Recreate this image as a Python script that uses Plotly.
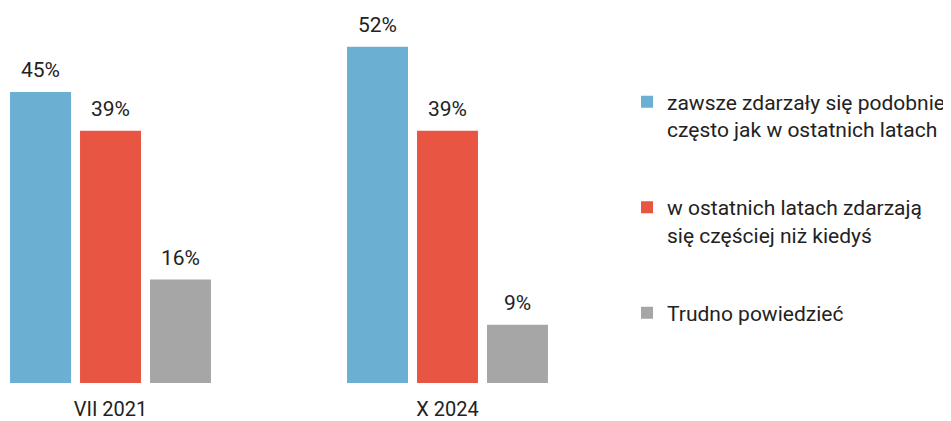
import plotly.graph_objects as go

categories = ["VII 2021", "X 2024"]
series_names = [
    "zawsze zdarzały się podobnie<br>często jak w ostatnich latach",
    "w ostatnich latach zdarzają<br>się częściej niż kiedyś",
    "Trudno powiedzieć",
]
values_always = [45, 52]
values_more = [39, 39]
values_hard = [16, 9]
colors = ["#6bafd2", "#e85643", "#a6a6a6"]

BARGAP = 0.377
all_series = [values_always, values_more, values_hard]
n = len(all_series)

fig = go.Figure()
for i, (name, vals) in enumerate(zip(series_names, all_series)):
    fig.add_trace(go.Bar(
        x=categories, y=vals, name=name,
        marker=dict(color=colors[i], line=dict(width=0)),
        legendgroup=f"g{i}",
        hoverinfo="x+y",
    ))
    slot = (1 - BARGAP) / n
    for ci, v in enumerate(vals):
        fig.add_annotation(
            x=ci + (i - (n - 1) / 2) * slot, y=v, xref="x", yref="y",
            text=f"{v}%", showarrow=False, yanchor="middle", yshift=22,
            font=dict(size=21, color="#222222"),
        )

fig.update_layout(
    width=943, height=413,
    margin=dict(l=0, r=343, t=10, b=36),
    paper_bgcolor="white", plot_bgcolor="white",
    font=dict(family="Roboto", size=21, color="#222222"),
    barmode="group", bargap=BARGAP, bargroupgap=0.129,
    showlegend=True,
    legend=dict(x=1.0317, y=0.826, xanchor="left", yanchor="top",
                valign="top", tracegroupgap=48,
                font=dict(size=21, color="#222222"),
                bgcolor="rgba(0,0,0,0)"),
    xaxis=dict(range=[-0.3042, 1.4763], showgrid=False, showline=False,
               ticks="outside", ticklen=8, tickcolor="rgba(0,0,0,0)",
               zeroline=False, tickfont=dict(size=20, color="#222222")),
    yaxis=dict(range=[0, 56.46], visible=False, showgrid=False, zeroline=False),
)
fig.write_html("out.html")
